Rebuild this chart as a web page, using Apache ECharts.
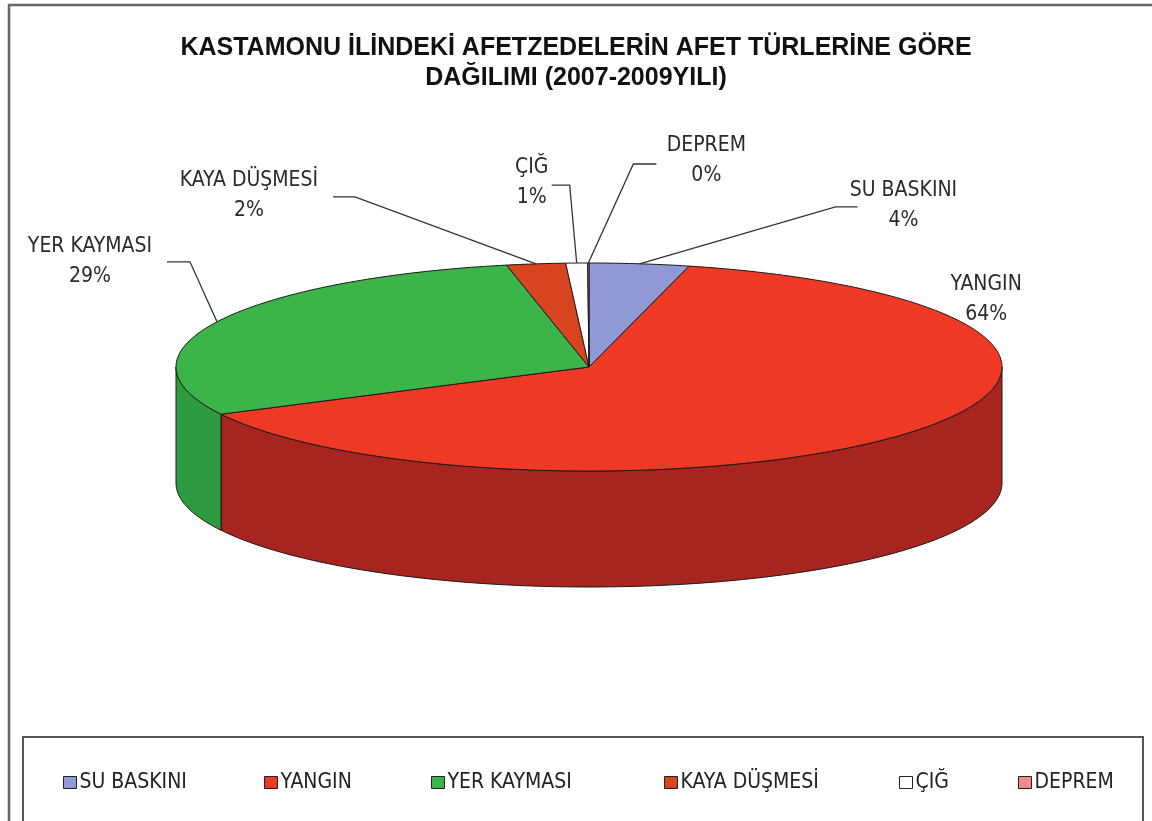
<!DOCTYPE html>
<html>
<head>
<meta charset="utf-8">
<script src="https://cdn.jsdelivr.net/npm/echarts@6/dist/echarts.min.js"></script>
<style>
  html, body { margin: 0; padding: 0; background: #fff; }
  #myChart { width: 1152px; height: 821px; }
</style>
</head>
<body>
<div id="myChart"></div>
<script>
// data (shares in %, 12 o'clock, clockwise)
const categories = ['SU BASKINI', 'YANGIN', 'YER KAYMASI', 'KAYA DÜŞMESİ', 'ÇIĞ', 'DEPREM'];
const shares = [3.9, 63.6, 29.3, 2.3, 0.85, 0.05];

// styling
const topColors = ['#8F99D5', '#EE3A24', '#3BB44A', '#D8441F', '#FFFFFF', '#F08A8A'];
const sideColors = ['#6A74A8', '#A8241F', '#2E9A40', '#A5331A', '#D0D0D0', '#C06868'];
const NARROW = "'Liberation Sans Narrow', 'Arial Narrow', 'DejaVu Sans Condensed', sans-serif";

// layout: ellipse of the 3d pie, label offsets from each slice's edge point
const PIE = { cx: 589, cy: 367, rx: 413, ry: 104, depth: 116 };
const labelLayout = [
  { text: [264, -58], elbow: [196, -57], tail: 22 },
  { text: [74, -132], elbow: null },
  { text: [-127, -60], elbow: [-27, -60], tail: -23 },
  { text: [-287, -68], elbow: [-181, -67], tail: -22 },
  { text: [-45, -80], elbow: [-7, -78], tail: -18 },
  { text: [118, -102], elbow: [45, -99], tail: 23 }
];
const legendLeft = [58, 259, 426, 659, 894, 1013];

const total = shares.reduce((a, b) => a + b, 0);

function pt(theta, dy) {
  return [PIE.cx + PIE.rx * Math.sin(theta), PIE.cy - PIE.ry * Math.cos(theta) + (dy || 0)];
}
function arcPoints(a0, a1, dy) {
  const n = Math.max(2, Math.ceil((a1 - a0) / (Math.PI / 180)));
  const pts = [];
  for (let k = 0; k <= n; k++) pts.push(pt(a0 + (a1 - a0) * k / n, dy));
  return pts;
}

function renderSlice(idx) {
  return function (params, api) {
    const v = api.value(0);
    let before = 0;
    for (let i = 0; i < idx; i++) before += shares[i];
    const a0 = before / total * Math.PI * 2;
    const a1 = (before + v) / total * Math.PI * 2;
    const children = [];

    // front wall (only the part facing us)
    const s = Math.max(a0, Math.PI / 2), e = Math.min(a1, Math.PI * 1.5);
    if (e > s) {
      const side = arcPoints(s, e, 0).concat(arcPoints(s, e, PIE.depth).reverse());
      children.push({
        type: 'polygon',
        shape: { points: side },
        style: { fill: sideColors[idx], stroke: '#1a1a1a', lineWidth: 1 }
      });
    }
    // top face
    children.push({
      type: 'polygon',
      shape: { points: [[PIE.cx, PIE.cy]].concat(arcPoints(a0, a1, 0)) },
      style: { fill: topColors[idx], stroke: '#1a1a1a', lineWidth: 1 }
    });

    // label + leader
    const mid = (a0 + a1) / 2;
    const edge = pt(mid, 0);
    const lay = labelLayout[idx];
    if (lay.elbow) {
      const ex = edge[0] + lay.elbow[0], ey = edge[1] + lay.elbow[1];
      children.push({
        type: 'polyline',
        shape: { points: [edge, [ex, ey], [ex + lay.tail, ey]] },
        style: { stroke: '#333', lineWidth: 1.3, fill: null }
      });
    }
    children.push({
      type: 'text',
      x: edge[0] + lay.text[0],
      y: edge[1] + lay.text[1],
      style: {
        text: categories[idx] + '\n' + Math.round(v / total * 100) + '%',
        align: 'center',
        verticalAlign: 'middle',
        fontFamily: NARROW,
        fontSize: 21,
        lineHeight: 30,
        fill: '#2a2a2a'
      }
    });
    return { type: 'group', children: children };
  };
}

const myChart = echarts.init(document.getElementById('myChart'));
const option = {
  animation: false,
  backgroundColor: '#fff',
  title: {
    text: 'KASTAMONU İLİNDEKİ AFETZEDELERİN AFET TÜRLERİNE GÖRE\nDAĞILIMI (2007-2009YILI)',
    left: 'center',
    top: 28,
    textStyle: {
      fontFamily: "'Liberation Sans', Arial, sans-serif",
      fontSize: 25,
      fontWeight: 'bold',
      color: '#111',
      lineHeight: 30
    }
  },
  legend: categories.map((c, i) => ({
    data: [c],
    left: legendLeft[i],
    top: 767,
    icon: 'rect',
    itemWidth: 13,
    itemHeight: 12,
    itemGap: 0,
    textStyle: { fontFamily: NARROW, fontSize: 21, color: '#222', padding: [0, 0, 0, -2] },
    itemStyle: { borderColor: '#222', borderWidth: 1 }
  })),
  graphic: [
    { type: 'rect', z: -1, shape: { x: 9, y: 5, width: 1160, height: 830 },
      style: { fill: null, stroke: '#666', lineWidth: 2.5 } },
    { type: 'rect', z: -1, shape: { x: 23, y: 737, width: 1120, height: 100 },
      style: { fill: null, stroke: '#555', lineWidth: 2 } }
  ],
  series: categories.map((c, i) => ({
    name: c,
    type: 'custom',
    coordinateSystem: 'none',
    itemStyle: { color: topColors[i] },
    renderItem: renderSlice(i),
    data: [shares[i]]
  }))
};
myChart.setOption(option);

window.addEventListener('resize', () => {
  myChart.resize();
});
</script>
</body>
</html>
